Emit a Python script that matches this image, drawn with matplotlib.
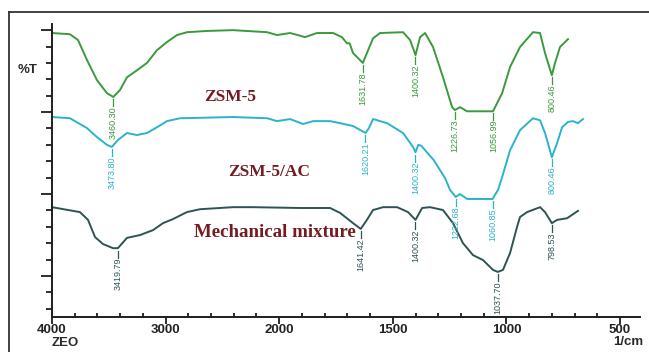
import numpy as np
import matplotlib
matplotlib.use("Agg")
import matplotlib.pyplot as plt
from matplotlib.lines import Line2D

# ---------------- data (wavenumber in 1/cm, %T arbitrary offset units) -------------
zsm5_wn = [4000, 3842, 3771, 3692, 3604, 3516, 3460, 3401, 3340, 3252, 3164, 3076, 2988,
           2900, 2812, 2636, 2407, 2107, 2019, 1952, 1886, 1834, 1776, 1763, 1724, 1702,
           1690, 1675, 1632, 1614, 1587, 1556, 1455, 1424, 1400, 1380, 1358, 1323, 1279,
           1239, 1227, 1204, 1173, 1059, 1019, 984, 940, 883, 852, 830, 800, 786, 764, 729]
zsm5_t = [69.3, 69.0, 67.6, 62.7, 57.8, 54.6, 53.7, 55.4, 58.5, 60.2, 62.0, 65.1, 67.1,
          68.8, 69.5, 69.8, 70.0, 69.5, 68.8, 69.3, 68.3, 69.3, 69.3, 69.3, 68.3, 66.8,
          66.8, 64.4, 62.0, 64.4, 68.0, 69.3, 69.5, 67.6, 63.9, 68.3, 69.3, 65.9, 58.5,
          51.2, 50.5, 51.2, 50.2, 50.2, 54.6, 61.0, 65.9, 69.5, 69.3, 64.4, 59.0, 62.0,
          65.9, 67.8]

ac_wn = [4000, 3842, 3692, 3604, 3516, 3474, 3419, 3340, 3252, 3164, 3076, 2988, 2873,
         2407, 2107, 2019, 1952, 1895, 1851, 1776, 1732, 1675, 1620, 1605, 1587, 1525,
         1455, 1411, 1400, 1388, 1375, 1320, 1270, 1248, 1223, 1204, 1173, 1061, 1037,
         1019, 984, 940, 883, 852, 830, 800, 777, 755, 729, 707, 685, 663]
ac_t = [48.8, 48.5, 46.1, 43.9, 42.0, 41.5, 43.2, 44.9, 44.4, 44.9, 46.3, 47.8, 48.5,
        48.8, 48.5, 47.8, 48.3, 47.1, 47.8, 47.8, 47.3, 46.6, 44.9, 46.1, 48.3, 47.3,
        44.9, 41.5, 40.2, 42.0, 41.8, 38.3, 33.9, 31.0, 29.3, 30.0, 28.8, 28.8, 31.0,
        34.1, 40.7, 45.6, 48.5, 48.0, 44.9, 39.0, 42.4, 46.3, 47.6, 47.8, 47.3, 48.3]

mix_wn = [4000, 3754, 3683, 3621, 3551, 3463, 3420, 3340, 3225, 3111, 3023, 2935, 2812,
          2697, 2407, 2231, 1908, 1776, 1732, 1675, 1641, 1614, 1587, 1543, 1481, 1433,
          1400, 1393, 1371, 1336, 1279, 1235, 1191, 1147, 1103, 1059, 1038, 1015, 984,
          953, 940, 909, 852, 830, 800, 777, 733, 685]
mix_t = [26.8, 25.6, 23.7, 19.5, 17.8, 16.8, 16.8, 19.3, 20.0, 21.2, 22.9, 23.9, 25.6,
         26.3, 26.8, 26.8, 26.6, 26.6, 25.4, 22.9, 21.5, 23.7, 26.1, 26.8, 26.8, 25.6,
         23.7, 24.4, 26.6, 26.8, 26.1, 22.9, 18.0, 15.1, 13.9, 11.5, 11.0, 11.5, 15.6,
         22.0, 24.4, 25.6, 26.8, 25.6, 22.9, 23.7, 24.1, 25.9]

zsm5_peaks = [3460.30, 1631.78, 1400.32, 1226.73, 1056.99, 800.46]
ac_peaks = [3473.80, 1620.21, 1400.32, 1222.68, 1060.85, 800.46]
mix_peaks = [3419.79, 1641.42, 1400.32, 1037.70, 798.53]

series_names = ["ZSM-5", "ZSM-5/AC", "Mechanical mixture"]
x_major = [4000, 3000, 2000, 1500, 1000, 500]

# ---------------- styling ----------------
c_green = "#3a9a3c"
c_cyan = "#2bb3cb"
c_dark = "#2e5353"
c_name = "#741c22"
c_axis = "#1e1e1e"

fig = plt.figure(figsize=(6.49, 3.52), dpi=100)
W, H = 649, 352
ax = fig.add_axes([52 / W, 1 - 317 / H, (640 - 52) / W, (317 - 24) / H])


def fwd(x):
    x = np.asarray(x, dtype=float)
    return np.where(x >= 2000, x, 2000 - 2 * (2000 - x))


def inv(u):
    u = np.asarray(u, dtype=float)
    return np.where(u >= 2000, u, 2000 - (2000 - u) / 2)


ax.set_xscale("function", functions=(fwd, inv))
ax.set_xlim(4000, 412)
ax.set_ylim(0, 71.5)

for wn, t, col in [(zsm5_wn, zsm5_t, c_green), (ac_wn, ac_t, c_cyan), (mix_wn, mix_t, c_dark)]:
    ax.plot(wn, t, color=col, lw=1.4, solid_joinstyle="round", clip_on=False)


def label_peaks(wn, t, peaks, col):
    xs = np.asarray(wn)[::-1]
    ys = np.asarray(t)[::-1]
    for p in peaks:
        yp = float(np.interp(p, xs, ys))
        ax.plot([p, p], [yp - 0.6, yp - 2.3], color=col, lw=0.9)
        ax.text(p, yp - 2.3, f"{p:.2f}", rotation=90, ha="center", va="top",
                fontsize=6.5, color=col, family="Liberation Sans")


label_peaks(zsm5_wn, zsm5_t, zsm5_peaks, c_green)
label_peaks(ac_wn, ac_t, ac_peaks, c_cyan)
label_peaks(mix_wn, mix_t, mix_peaks, c_dark)

# series names
name_pos = [(2433, 53.7), (2090, 35.4), (2037, 20.5)]
name_size = [12.5, 12.5, 13.6]
for name, (xn, yn), fs in zip(series_names, name_pos, name_size):
    ax.text(xn, yn, name, ha="center", va="center", fontsize=fs, fontweight="bold",
            family="Liberation Serif", color=c_name)

# axes styling
for s in ["top", "right"]:
    ax.spines[s].set_visible(False)
for s in ["left", "bottom"]:
    ax.spines[s].set_color(c_axis)
    ax.spines[s].set_linewidth(1.4)

ax.set_xticks(x_major)
ax.set_xticklabels([str(v) for v in x_major])
minor_x = [v for v in list(range(3800, 2000, -200)) + list(range(1900, 400, -100))
           if v not in x_major]
ax.set_xticks(minor_x, minor=True)
ax.tick_params(axis="x", which="major", direction="out", length=5, width=1.3,
               color=c_axis, pad=0, labelsize=9.5, labelcolor="#222222")
ax.tick_params(axis="x", which="minor", direction="in", length=3, width=1.3, color=c_axis)
for lab in ax.get_xticklabels():
    lab.set_fontweight("bold")
    lab.set_family("Liberation Sans")

y_major = [10, 30, 50, 70]
ax.set_yticks(y_major)
ax.set_yticks([v for v in np.arange(2, 71, 4) if v not in y_major], minor=True)
ax.tick_params(axis="y", which="major", direction="out", length=8, width=1.3, color=c_axis,
               labelleft=False)
ax.tick_params(axis="y", which="minor", direction="out", length=4, width=1.3, color=c_axis)

# axis texts
fig.text(28 / W, 1 - 70 / H, "%T", ha="center", va="center", fontsize=9.5,
         fontweight="bold", family="Liberation Sans", color="#2a2a2a")
fig.text(65 / W, 1 - 343 / H, "ZEO", ha="center", va="center", fontsize=9.5,
         fontweight="bold", family="Liberation Sans", color="#2a2a2a")
fig.text(628 / W, 1 - 342 / H, "1/cm", ha="center", va="center", fontsize=9.5,
         fontweight="bold", family="Liberation Sans", color="#2a2a2a")

# outer frame (left and top edges only visible)
fig.add_artist(Line2D([9 / W, 9 / W], [0, 1 - 12 / H], transform=fig.transFigure,
                      color="#333333", lw=1.3))
fig.add_artist(Line2D([9 / W, 1], [1 - 12 / H, 1 - 12 / H], transform=fig.transFigure,
                      color="#333333", lw=1.3))

fig.savefig("out.png", dpi=100)
